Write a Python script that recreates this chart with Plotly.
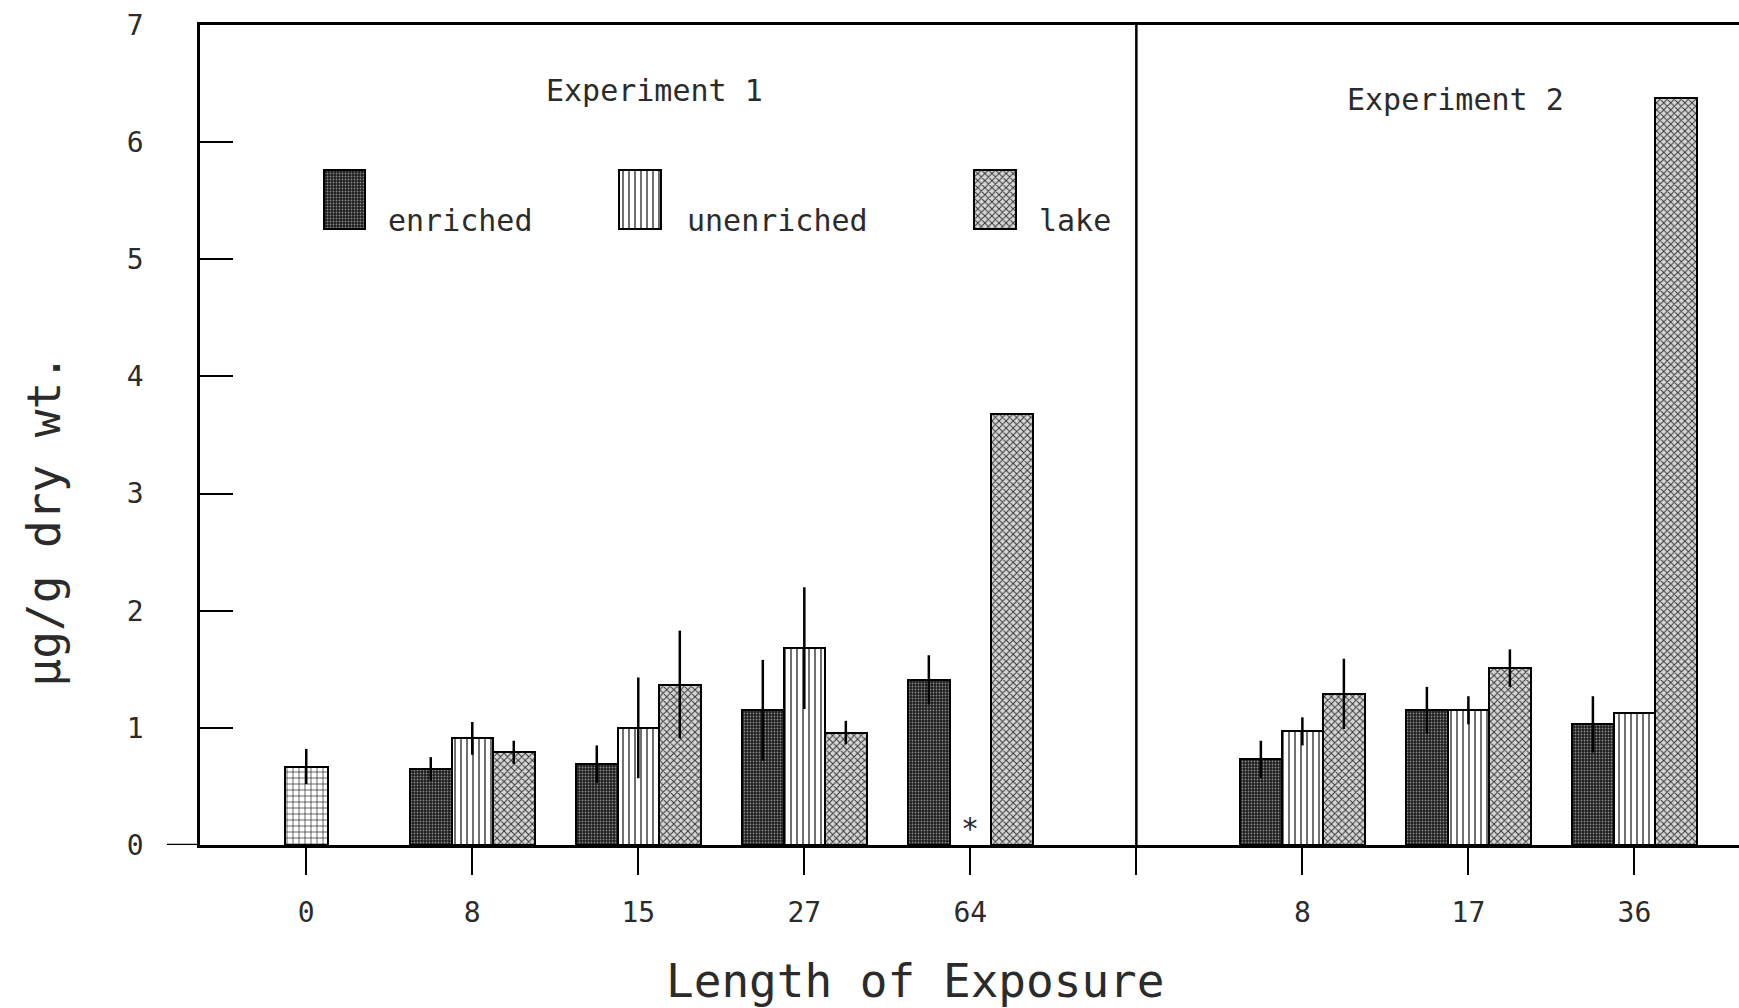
import plotly.graph_objects as go

# ---- data: mean concentration (µg/g dry wt.) with error half-widths ----
initial_day = "0"
initial_mean = 0.67
initial_err = 0.15

exp1_days = ["8", "15", "27", "64"]
exp2_days = ["8", "17", "36"]

enriched_exp1 = [0.65, 0.69, 1.15, 1.41]
enriched_exp1_err = [0.10, 0.16, 0.43, 0.21]
unenriched_exp1 = [0.91, 1.00, 1.68, None]   # no sample at day 64 (*)
unenriched_exp1_err = [0.14, 0.43, 0.52, 0.0]
lake_exp1 = [0.79, 1.37, 0.96, 3.68]
lake_exp1_err = [0.10, 0.46, 0.10, 0.0]

enriched_exp2 = [0.73, 1.15, 1.03]
enriched_exp2_err = [0.16, 0.20, 0.24]
unenriched_exp2 = [0.97, 1.15, 1.13]
unenriched_exp2_err = [0.12, 0.12, 0.0]
lake_exp2 = [1.29, 1.51, 6.38]
lake_exp2_err = [0.30, 0.16, 0.0]

series_names = ["enriched", "unenriched", "lake"]

# ---- layout of category slots on the x axis ----
# slot 0: initial sample, slots 1-4: Experiment 1, slot 5: divider, slots 6-8: Experiment 2
exp1_slots = [1, 2, 3, 4]
divider_slot = 5
exp2_slots = [6, 7, 8]
bar_w = 0.25
offsets = {"enriched": -bar_w, "unenriched": 0.0, "lake": bar_w}

FONT = "DejaVu Sans Mono"
INK = "#2b2b2b"

patterns = {
    "enriched": dict(shape=".", bgcolor="#1c1c1c", fgcolor="#8a8a8a", size=3, solidity=0.3, fillmode="replace"),
    "unenriched": dict(shape="|", bgcolor="#ffffff", fgcolor="#111111", size=6, solidity=0.2, fillmode="replace"),
    "lake": dict(shape="x", bgcolor="#d6d6d6", fgcolor="#333333", size=5, solidity=0.35, fillmode="replace"),
}
initial_pattern = dict(shape="+", bgcolor="#ffffff", fgcolor="#111111", size=6, solidity=0.2, fillmode="replace")

values = {
    "enriched": (enriched_exp1 + enriched_exp2, enriched_exp1_err + enriched_exp2_err),
    "unenriched": (unenriched_exp1 + unenriched_exp2, unenriched_exp1_err + unenriched_exp2_err),
    "lake": (lake_exp1 + lake_exp2, lake_exp1_err + lake_exp2_err),
}
slots = exp1_slots + exp2_slots

fig = go.Figure()

outline = dict(color="#000000", width=2)
errstyle = dict(type="data", symmetric=True, width=0, thickness=2.5, color="#000000")

# initial (day 0) sample
fig.add_trace(go.Bar(
    x=[0], y=[initial_mean], width=[0.26],
    marker=dict(color="#ffffff", pattern=initial_pattern, line=outline),
    error_y=dict(array=[initial_err], **errstyle),
    showlegend=False, name="initial",
))

for name in series_names:
    ys, errs = values[name]
    fig.add_trace(go.Bar(
        x=[s + offsets[name] for s in slots], y=ys, width=bar_w,
        marker=dict(color="#ffffff", pattern=patterns[name], line=outline),
        error_y=dict(array=errs, **errstyle),
        showlegend=False, name=name,
    ))

# legend swatches drawn as short floating bars
legend_x = {"enriched": 0.23, "unenriched": 2.01, "lake": 4.15}
legend_text_x = {"enriched": 0.48, "unenriched": 2.28, "lake": 4.40}
for name in series_names:
    fig.add_trace(go.Bar(
        x=[legend_x[name]], y=[0.50], base=[5.26], width=0.25,
        marker=dict(color="#ffffff", pattern=patterns[name], line=outline),
        showlegend=False, hoverinfo="skip",
    ))
    fig.add_annotation(x=legend_text_x[name], y=5.33, text=name, showarrow=False,
                       xanchor="left", yanchor="middle",
                       font=dict(family=FONT, size=30, color=INK))

# experiment headings
fig.add_annotation(x=2.10, y=6.44, text="Experiment 1", showarrow=False,
                   xanchor="center", yanchor="middle",
                   font=dict(family=FONT, size=30, color=INK))
fig.add_annotation(x=6.92, y=6.36, text="Experiment 2", showarrow=False,
                   xanchor="center", yanchor="middle",
                   font=dict(family=FONT, size=30, color=INK))

# missing unenriched sample at day 64
fig.add_annotation(x=exp1_slots[3], y=0.14, text="*", showarrow=False,
                   xanchor="center", yanchor="middle",
                   font=dict(family=FONT, size=30, color=INK))

# divider between the experiments
fig.add_shape(type="line", xref="x", yref="y", x0=divider_slot, x1=divider_slot, y0=0, y1=7,
              line=dict(color="#000000", width=2.5))
# zero line running a little left of the y axis
fig.add_shape(type="line", xref="paper", yref="y", x0=-0.0215, x1=0, y0=0, y1=0,
              line=dict(color="#000000", width=2.5))

# axis titles
fig.add_annotation(x=3.67, xref="x", y=-0.166, yref="paper", text="Length of Exposure",
                   xanchor="center", yanchor="middle",
                   showarrow=False, font=dict(family=FONT, size=46, color=INK))
fig.add_annotation(x=-0.1014, xref="paper", y=2.77, yref="y", text="µg/g dry wt.",
                   xanchor="center", yanchor="middle",
                   textangle=-90, showarrow=False, font=dict(family=FONT, size=46, color=INK))

tick_slots = [0] + exp1_slots + [divider_slot] + exp2_slots
tick_text = [initial_day] + exp1_days + [""] + exp2_days

fig.update_layout(
    width=1739, height=1008,
    margin=dict(l=200, r=0, t=25, b=163),
    paper_bgcolor="#ffffff", plot_bgcolor="#ffffff",
    barmode="overlay", bargap=0,
    font=dict(family=FONT, color=INK),
    xaxis=dict(
        range=[-0.64, 8.63], tickmode="array", tickvals=tick_slots, ticktext=tick_text,
        ticks="outside", ticklen=27, tickwidth=2, tickcolor="#000000",
        showline=True, linecolor="#000000", linewidth=2.5, mirror=True,
        showgrid=False, zeroline=False, ticklabelstandoff=14,
        tickfont=dict(family=FONT, size=28, color=INK),
    ),
    yaxis=dict(
        range=[0, 7], tickmode="array", tickvals=[0, 1, 2, 3, 4, 5, 6, 7],
        ticks="inside", ticklen=33, tickwidth=2, tickcolor="#000000",
        showline=True, linecolor="#000000", linewidth=2.5, mirror=False,
        showgrid=False, zeroline=False, ticklabelstandoff=48,
        tickfont=dict(family=FONT, size=28, color=INK),
    ),
)

fig.write_html("out.html")
